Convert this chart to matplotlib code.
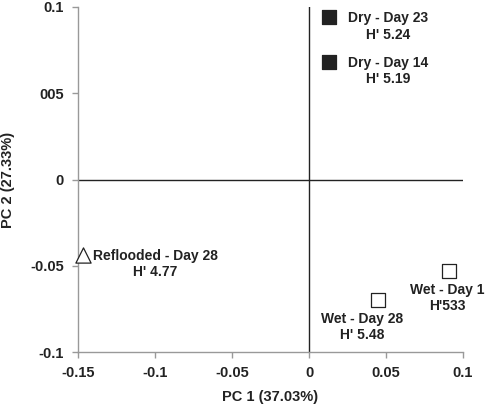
import numpy as np
import matplotlib.pyplot as plt

plt.rcParams['font.family'] = ['Liberation Sans', 'DejaVu Sans']

# PCA scores
labels = ["Dry - Day 23\nH' 5.24", "Dry - Day 14\nH' 5.19", "Reflooded - Day 28\nH' 4.77",
          "Wet - Day 28\nH' 5.48", "Wet - Day 1\nH'533"]
pc1 = [0.013, 0.013, -0.147, 0.045, 0.091]
pc2 = [0.094, 0.068, -0.0435, -0.0696, -0.053]
markers = ['s', 's', '^', 's', 's']
fills = ['#222222', '#222222', 'white', 'white', 'white']
# text offsets (pixels) relative to each point
offsets = [(59, 6), (59, 6), (73, 6), (-16, -12), (-2, -12)]

xticks = [-0.15, -0.1, -0.05, 0, 0.05, 0.1]
xticklabels = ['-0.15', '-0.1', '-0.05', '0', '0.05', '0.1']
yticks = [-0.1, -0.05, 0, 0.05, 0.1]
yticklabels = ['-0.1', '-0.05', '0', '005', '0.1']

fig = plt.figure(figsize=(4.86, 4.07), dpi=100)
ax = fig.add_axes([78 / 486, 55 / 407, 385 / 486, 345 / 407])

ax.axhline(0, color='#222222', lw=1.0, zorder=1)
ax.axvline(0, color='#222222', lw=1.0, zorder=1)

for x, y, m, fc, lab, off in zip(pc1, pc2, markers, fills, labels, offsets):
    ax.scatter(x, y, marker=m, s=100 if m == 's' else 120, facecolor=fc,
               edgecolor='#222222', linewidths=0.9, zorder=3, clip_on=False)
    ax.annotate(lab, (x, y), xytext=off, textcoords='offset pixels',
                ha='center', va='top', fontsize=10, fontweight='bold',
                color='#222222', linespacing=1.2)

ax.set_xlim(-0.15, 0.1)
ax.set_ylim(-0.1, 0.1)
ax.set_xticks(xticks)
ax.set_xticklabels(xticklabels)
ax.set_yticks(yticks)
ax.set_yticklabels(yticklabels)

for s in ['top', 'right']:
    ax.spines[s].set_visible(False)
for s in ['left', 'bottom']:
    ax.spines[s].set_color('#999999')
    ax.spines[s].set_linewidth(1.0)
ax.tick_params(colors='#999999', length=4, width=1.0, labelcolor='#222222',
               labelsize=10.5, pad=6)
for t in ax.get_xticklabels() + ax.get_yticklabels():
    t.set_fontweight('bold')

ax.set_xlabel('PC 1 (37.03%)', fontsize=10.5, fontweight='bold', color='#222222')
ax.set_ylabel('PC 2 (27.33%)', fontsize=10.5, fontweight='bold', color='#222222')
ax.xaxis.set_label_coords(0.5, -0.11)
ax.yaxis.set_label_coords(-0.163, 0.5)

fig.savefig('out.png', dpi=100)
